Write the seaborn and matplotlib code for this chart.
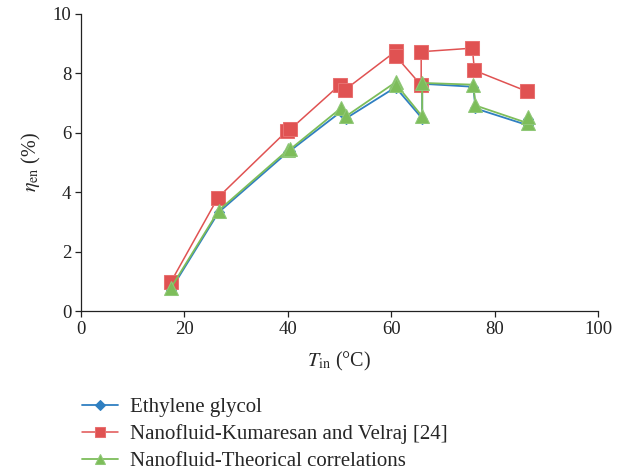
import matplotlib
matplotlib.use("Agg")
import matplotlib.pyplot as plt
import seaborn as sns

# ---- data ----
x_eg = [17.4, 26.6, 40.0, 40.5, 50.2, 51.2, 61.0, 61.0, 66.0, 66.0, 75.9, 76.3, 86.5, 86.5]
y_eg = [0.72, 3.32, 5.35, 5.40, 6.70, 6.48, 7.55, 7.50, 6.48, 7.65, 7.55, 6.82, 6.25, 6.45]

x_kv = [17.4, 26.5, 39.8, 40.5, 50.1, 51.0, 60.9, 60.9, 65.8, 65.8, 75.7, 76.1, 86.2]
y_kv = [0.98, 3.82, 6.06, 6.12, 7.62, 7.44, 8.75, 8.58, 7.60, 8.73, 8.85, 8.10, 7.40]

x_th = [17.4, 26.6, 40.0, 40.5, 50.2, 51.2, 61.0, 61.0, 66.0, 66.0, 75.9, 76.3, 86.5, 86.5]
y_th = [0.78, 3.38, 5.42, 5.45, 6.82, 6.55, 7.72, 7.62, 6.55, 7.68, 7.62, 6.92, 6.32, 6.52]

labels = ["Ethylene glycol",
          "Nanofluid-Kumaresan and Velraj [24]",
          "Nanofluid-Theorical correlations"]
x_ticks = [0, 20, 40, 60, 80, 100]
y_ticks = [0, 2, 4, 6, 8, 10]

sns.set_style("ticks")
plt.rcParams["font.family"] = ["Liberation Serif", "DejaVu Serif"]
plt.rcParams["mathtext.fontset"] = "stix"

fig = plt.figure(figsize=(6.24, 4.75), dpi=100)
ax = fig.add_axes([81/624, 1 - 311/475, (598 - 81)/624, (311 - 14)/475])

blue = "#2f7fc1"
red = "#e05252"
green = "#7dbd5a"

sns.lineplot(x=x_eg, y=y_eg, ax=ax, sort=False, estimator=None, color=blue,
             marker="D", markersize=5.5, markeredgecolor=blue, linewidth=1.3,
             label=labels[0])
sns.lineplot(x=x_kv, y=y_kv, ax=ax, sort=False, estimator=None, color=red,
             marker="s", markersize=9.5, markeredgecolor="#e87070", linewidth=1.1,
             label=labels[1])
sns.lineplot(x=x_th, y=y_th, ax=ax, sort=False, estimator=None, color=green,
             marker="^", markersize=10, markeredgecolor="#90c878", linewidth=1.3,
             label=labels[2])

ax.set_xlim(0, 100)
ax.set_ylim(0, 10)
ax.set_xticks(x_ticks)
ax.set_yticks(y_ticks)
ax.tick_params(direction="out", length=4, width=0.9, labelsize=13.5,
               colors="#222222", pad=3)
for s in ["left", "bottom"]:
    ax.spines[s].set_linewidth(0.9)
    ax.spines[s].set_color("#222222")
sns.despine(ax=ax)

ax.set_xlabel(r"$T_{\mathrm{in}}$ (°C)", fontsize=14.5, labelpad=9)
ax.set_ylabel(r"$\eta_{\mathrm{en}}$ (%)", fontsize=14.5, labelpad=7)

handles, labs = ax.get_legend_handles_labels()
ax.get_legend().remove()
leg = fig.legend(handles, labs, loc="upper left", bbox_to_anchor=(74/624, 1 - 389/475),
                 frameon=False, fontsize=15, handlelength=1.7, labelspacing=0.36,
                 handletextpad=0.6, borderaxespad=0)
for h, ms in zip(leg.legend_handles, [5.5, 6.5, 7]):
    h.set_markersize(ms)

fig.savefig("out.png", dpi=100)
